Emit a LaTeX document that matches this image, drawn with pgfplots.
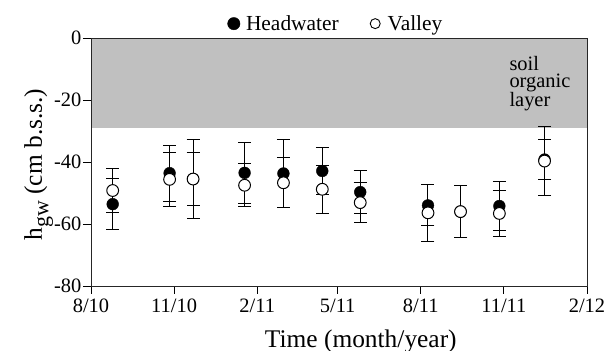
\documentclass[border=0pt]{standalone}
\usepackage{fontspec}
\setmainfont{Liberation Serif}
\usepackage{pgfplots}
\pgfplotsset{compat=1.18}
\definecolor{soilgray}{RGB}{192,192,192}
\begin{document}
\begin{tikzpicture}
\begin{axis}[
  scale only axis, width=496bp, height=248bp,
  xmin=0, xmax=549, ymin=-80, ymax=0,
  xtick={0,92,184,273,365,457,549},
  xticklabels={8/10,11/10,2/11,5/11,8/11,11/11,2/12},
  ytick={-80,-60,-40,-20,0},
  tick align=outside, tick pos=left, major tick length=8bp,
  tick style={black, line width=0.8bp},
  axis line style={black!85, line width=0.9bp},
  /pgf/number format/assume math mode=true,
  ticklabel style={font=\fontsize{20.5}{24}\selectfont},
  yticklabel style={inner sep=1.5bp},
  xticklabel style={inner sep=4.5bp},
  label style={font=\fontsize{25.5}{28}\selectfont},
  xlabel={Time (month/year)},
  ylabel={h\raisebox{-6.5bp}{\fontsize{22}{22}\selectfont gw} (cm b.s.s.)},
  xlabel style={at={(axis description cs:0.544,0)}, anchor=base, yshift=-61bp},
  ylabel style={at={(axis description cs:0,0.49)}, anchor=base, yshift=49bp},
  axis on top,
  legend style={draw=none, fill=none, at={(0.5,1)}, anchor=south, yshift=2bp, xshift=-3bp,
    font=\fontsize{21.5}{24}\selectfont, legend columns=2,
    /tikz/every even column/.append style={column sep=28bp},
    legend cell align=left},
  legend image code/.code={\draw[#1] plot coordinates {(0bp,0bp)}; \path (-6bp,0bp) (10bp,0bp);},
  error bars/y dir=both, error bars/y explicit,
  error bars/error mark options={rotate=90, mark size=6.5bp, line width=1bp, black},
  error bars/error bar style={line width=1bp, black},
]
\addplot[draw=none, fill=soilgray, forget plot] coordinates {(0,0) (549,0) (549,-29) (0,-29)} -- cycle;
\addlegendimage{only marks, mark=*, mark size=6.2bp, black}
\addlegendentry{Headwater}
\addlegendimage{only marks, mark=o, mark size=5bp, black, line width=0.9bp}
\addlegendentry{Valley}
% Headwater
\addplot[only marks, mark=*, mark size=5.9bp, black, forget plot]
  coordinates {
  (24,-53.6) +- (0,8.3)
  (87,-43.6) +- (0,9.0)
  (113,-45.5) +- (0,8.6)
  (170,-43.5) +- (0,9.8)
  (213,-43.7) +- (0,11.1)
  (256,-42.9) +- (0,7.5)
  (298,-49.7) +- (0,6.9)
  (373,-54.0) +- (0,6.6)
  (409,-56.0) +- (0,8.3)
  (452,-54.2) +- (0,8.0)
  (502,-39.2) +- (0,6.4)
  };
% Valley
\addplot[only marks, mark=*, mark size=5.9bp, black, line width=1bp,
  mark options={fill=white, draw=black}, forget plot]
  coordinates {
  (24,-49.2) +- (0,7.1)
  (87,-45.6) +- (0,8.8)
  (113,-45.5) +- (0,12.7)
  (170,-47.5) +- (0,7.0)
  (213,-46.7) +- (0,8.1)
  (256,-48.8) +- (0,7.8)
  (298,-53.1) +- (0,6.4)
  (373,-56.4) +- (0,9.1)
  (409,-56.0) +- (0,8.3)
  (452,-56.6) +- (0,7.5)
  (502,-39.7) +- (0,11.2)
  };
\node[anchor=north west, inner sep=0pt, align=left,
  font=\fontsize{20.5}{17}\selectfont] at (axis cs:463,-5.8) {soil\\organic\\layer};
\end{axis}
\pgfresetboundingbox
\path ([shift={(-91bp,-65bp)}]current axis.south west) rectangle ([shift={(22bp,38bp)}]current axis.north east);
\end{tikzpicture}
\end{document}
